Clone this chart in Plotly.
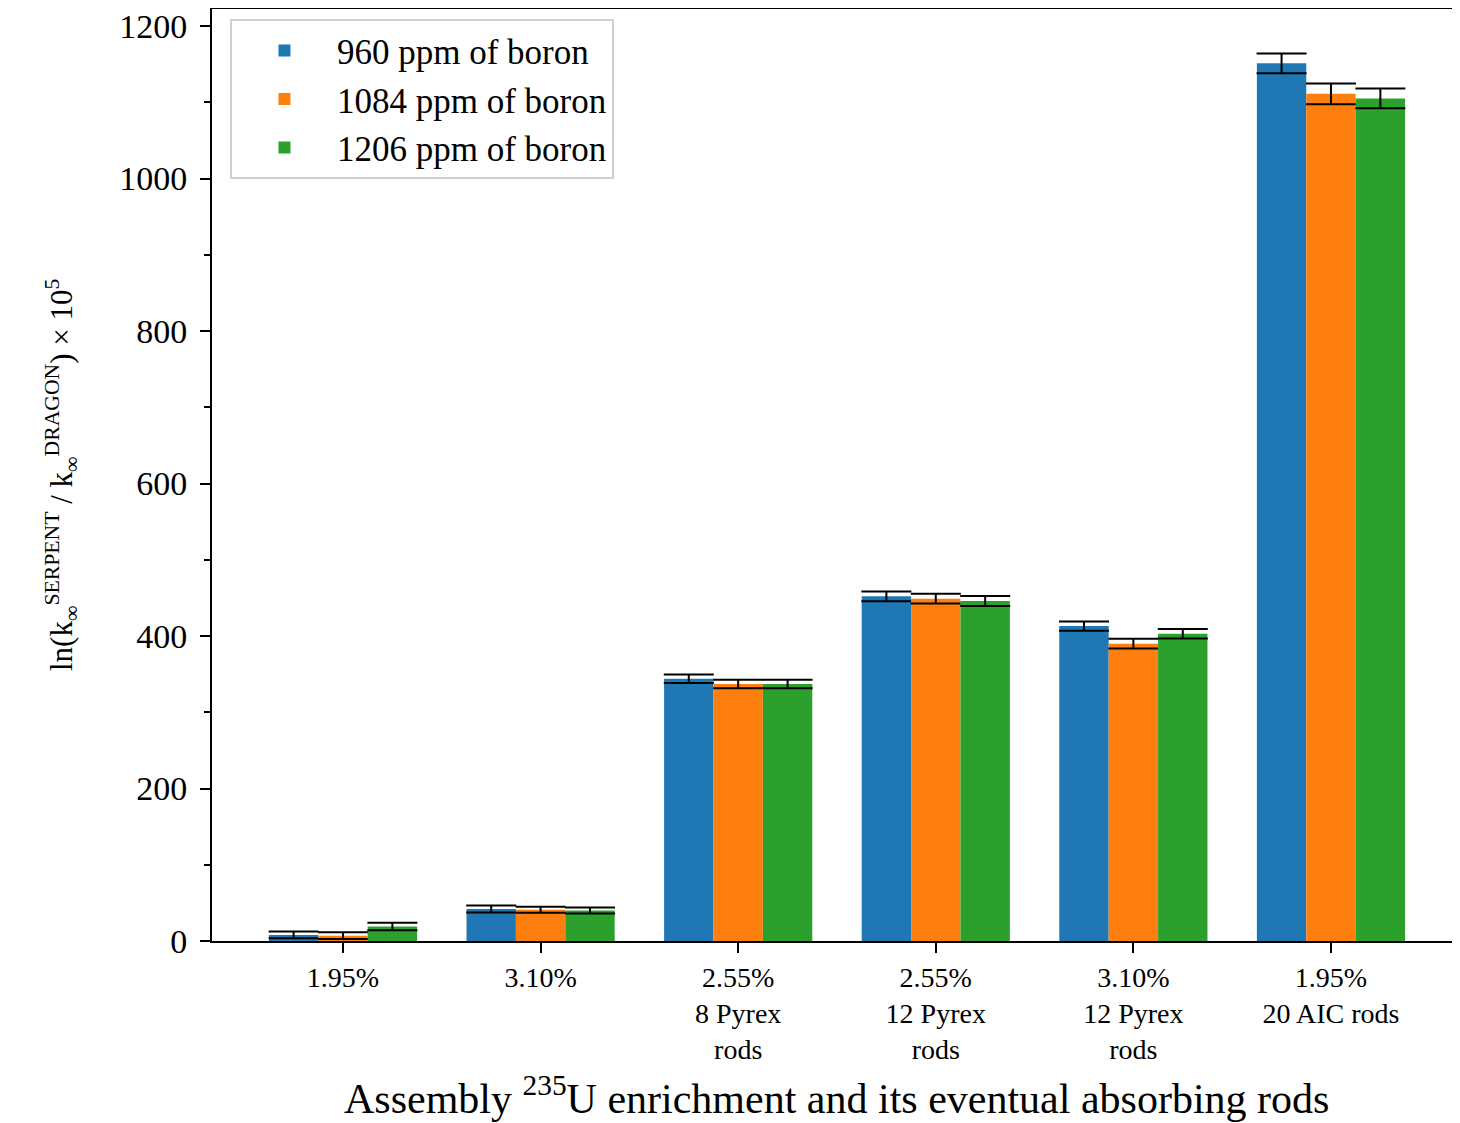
import plotly.graph_objects as go

categories = ["1.95%", "3.10%", "2.55%<br>8 Pyrex<br>rods", "2.55%<br>12 Pyrex<br>rods",
              "3.10%<br>12 Pyrex<br>rods", "1.95%<br>20 AIC rods"]
series_names = ["960 ppm of boron", "1084 ppm of boron", "1206 ppm of boron"]
vals_960 = [8, 42, 344, 452, 413, 1151]
vals_1084 = [7, 41, 337, 449, 390, 1111]
vals_1206 = [19, 40, 337, 446, 403, 1105]
err_960 = [4.5, 4.5, 5.5, 6.3, 6, 13]
err_1084 = [4.5, 4.0, 5.5, 6.3, 6.3, 13.5]
err_1206 = [4.8, 4.0, 5.5, 6.5, 6.3, 13]
colors = ["#1f77b4", "#ff7f0e", "#2ca02c"]
x_title = "Assembly <sup>235</sup>U enrichment and its eventual absorbing rods"
y_title = "ln(k<sub>∞</sub><sup>SERPENT</sup> / k<sub>∞</sub><sup>DRAGON</sup>) × 10<sup>5</sup>"

FONT = "Liberation Serif"
x = list(range(len(categories)))

fig = go.Figure()
for name, vals, errs, col in zip(series_names, [vals_960, vals_1084, vals_1206],
                                 [err_960, err_1084, err_1206], colors):
    fig.add_trace(go.Bar(
        x=x, y=vals, name=name, marker=dict(color=col, line=dict(width=0)),
        error_y=dict(type="data", array=errs, visible=True, color="black",
                     thickness=2, width=25),
    ))

fig.update_layout(
    width=1452, height=1115,
    margin=dict(l=204, r=0, t=1, b=182),
    paper_bgcolor="white", plot_bgcolor="white",
    barmode="group", bargap=0.25, bargroupgap=0,
    font=dict(family=FONT, size=32, color="black"),
    legend=dict(x=0.0144, y=0.989, xanchor="left", yanchor="top",
                bgcolor="white", bordercolor="#d0d0d0", borderwidth=2,
                itemwidth=95,
                font=dict(size=35, family=FONT)),
    showlegend=True,
    annotations=[
        dict(text=x_title, xref="paper", yref="paper", x=0.5, y=-0.166,
             xanchor="center", yanchor="middle", showarrow=False,
             font=dict(size=42, family=FONT, color="black")),
        dict(text=y_title, xref="paper", yref="paper", x=-0.1202, y=0.5,
             xanchor="center", yanchor="middle", showarrow=False, textangle=-90,
             font=dict(size=31, family=FONT, color="black")),
    ],
)
fig.update_xaxes(
    range=[-0.663, 5.653], tickvals=x, ticktext=categories,
    showline=True, linecolor="black", linewidth=2, mirror=True,
    ticks="outside", ticklen=10, tickwidth=2, tickcolor="black",
    showgrid=False, zeroline=False,
    tickfont=dict(size=28, family=FONT),
)
fig.update_yaxes(
    range=[0, 1222.3], dtick=200, tick0=0,
    showline=True, linecolor="black", linewidth=2, mirror=False,
    ticks="outside", ticklen=10, tickwidth=2, tickcolor="black",
    ticklabelstandoff=6, ticklabeloverflow="allow",
    minor=dict(dtick=100, ticks="outside", ticklen=6, tickwidth=1.5, tickcolor="black", showgrid=False),
    showgrid=False, zeroline=False,
    tickfont=dict(size=34, family=FONT),
)

fig.write_html("out.html")
